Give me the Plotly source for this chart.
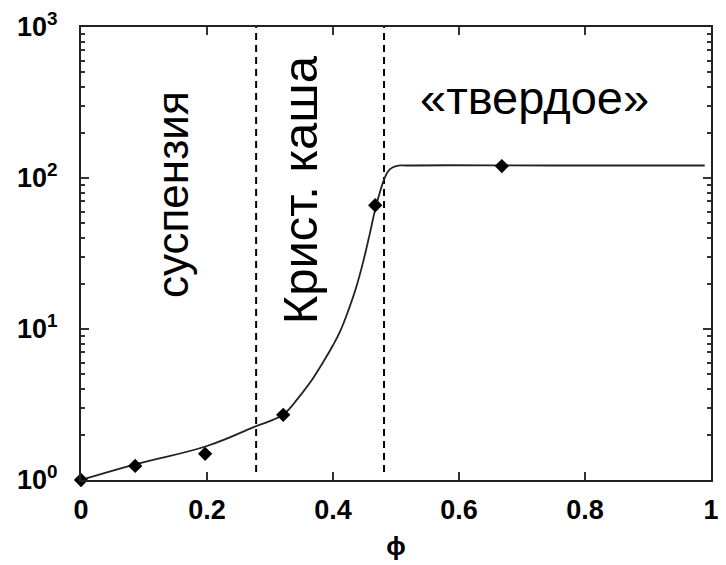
import plotly.graph_objects as go

# Measured points
phi_points = [0.0, 0.086, 0.197, 0.321, 0.467, 0.668]
val_points = [1.0, 1.24, 1.49, 2.7, 66.0, 120.0]

# Fit curve
phi_curve = [0.0, 0.086, 0.2, 0.275, 0.32, 0.345, 0.365, 0.385, 0.40, 0.412, 0.425,
             0.437, 0.448, 0.458, 0.467, 0.475, 0.482, 0.49, 0.5, 0.52, 0.75, 0.99]
val_curve = [1.0, 1.27, 1.68, 2.25, 2.7, 3.5, 4.5, 6.1, 7.8, 9.8, 13.5,
             19.0, 28.0, 42.0, 62.0, 82.0, 100.0, 114.0, 120.0, 121.0, 121.0, 121.0]

# Phase boundaries
boundaries = [0.278, 0.481]
boundary_span = [1.13, 1000]

labels = ["суспензия", "Крист. каша", "«твердое»"]
label_x = [0.145, 0.348, 0.72]
label_y = [1.89, 1.92, 2.53]  # log10 units
label_angle = [-90, -90, 0]
label_size = [44, 49, 47]

xtick_vals = [0, 0.2, 0.4, 0.6, 0.8, 1]
xtick_text = ["<b>0</b>", "<b>0.2</b>", "<b>0.4</b>", "<b>0.6</b>", "<b>0.8</b>", "<b>1</b>"]
ytick_vals = [1, 10, 100, 1000]
ytick_text = ["<b>10<sup>0</sup></b>", "<b>10<sup>1</sup></b>", "<b>10<sup>2</sup></b>", "<b>10<sup>3</sup></b>"]
yminor_vals = [m * d for d in (1, 10, 100) for m in range(2, 10)]

fig = go.Figure()

for b in boundaries:
    fig.add_trace(go.Scatter(x=[b, b], y=boundary_span, mode="lines",
                             line=dict(color="black", width=2, dash="7px,5px"),
                             showlegend=False, hoverinfo="skip"))

fig.add_trace(go.Scatter(x=phi_curve, y=val_curve, mode="lines",
                         line=dict(color="#222", width=1.8, shape="spline", smoothing=1.2),
                         showlegend=False))
fig.add_trace(go.Scatter(x=phi_points, y=val_points, mode="markers",
                         marker=dict(symbol="diamond", size=11, color="black"),
                         showlegend=False, cliponaxis=False))

for t, x, y, a, s in zip(labels, label_x, label_y, label_angle, label_size):
    fig.add_annotation(x=x, y=y, xref="x", yref="y", text=t, textangle=a,
                       showarrow=False,
                       font=dict(family="Liberation Sans, Arial", size=s, color="black"))

# page body has an 8px margin; size the figure so the plot area lands where the reference has it
fig.update_layout(
    width=718, height=557,
    margin=dict(l=73, r=15, t=19, b=85),
    plot_bgcolor="white", paper_bgcolor="white",
    font=dict(family="Liberation Sans, Arial", color="black"),
)
fig.update_xaxes(range=[0, 1], tickvals=xtick_vals, ticktext=xtick_text,
                 ticks="inside", ticklen=8, tickwidth=1.5, tickcolor="#333",
                 showline=True, linecolor="#222", linewidth=2, mirror="allticks",
                 showgrid=False, zeroline=False, automargin=False,
                 tickfont=dict(size=27), ticklabelstandoff=5,
                 title=dict(text="<b>ϕ</b>", font=dict(size=26), standoff=12))
fig.update_yaxes(type="log", range=[0, 3], tickvals=ytick_vals, ticktext=ytick_text,
                 ticks="inside", ticklen=8, tickwidth=1.5, tickcolor="#333",
                 minor=dict(ticks="inside", ticklen=4, tickcolor="#333", tickvals=yminor_vals,
                            showgrid=False),
                 showline=True, linecolor="#222", linewidth=2, mirror="allticks",
                 showgrid=False, zeroline=False, automargin=False,
                 tickfont=dict(size=27), ticklabelstandoff=16)

fig.write_html("out.html")
